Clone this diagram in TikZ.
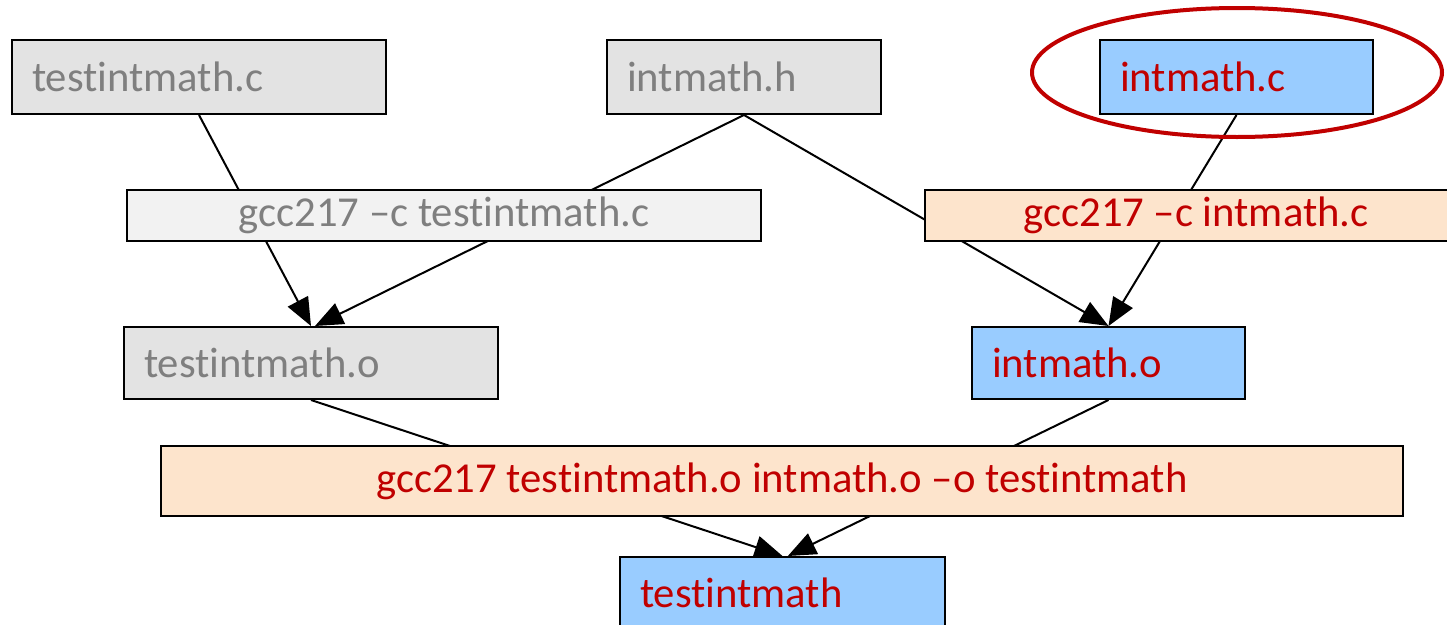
\documentclass[tikz,border=0pt]{standalone}
\usepackage{fontspec}
\setmainfont{Carlito}[Ligatures={NoCommon,NoRequired,NoContextual}, RawFeature={-liga;-dlig;-clig}]
\usetikzlibrary{arrows.meta}
\definecolor{txtgray}{HTML}{7F7F7F}
\definecolor{txtred}{HTML}{C00000}
\definecolor{fillgray}{HTML}{E3E3E3}
\definecolor{fillpale}{HTML}{F2F2F2}
\definecolor{fillpeach}{HTML}{FDE4CC}
\definecolor{fillblue}{HTML}{99CCFF}
\definecolor{ringred}{HTML}{C00000}
\pgfdeclarelayer{background}
\pgfsetlayers{background,main}
\tikzset{
  base/.style={draw=black, line width=1.5pt, font=\fontsize{32}{37}\selectfont, inner ysep=0pt, anchor=center},
  filebox/.style={base, inner xsep=15pt, align=left, minimum height=55pt},
  cmdbox/.style={base, align=center, inner xsep=0pt},
  grayfile/.style={filebox, fill=fillgray, text=txtgray},
  bluefile/.style={filebox, fill=fillblue, text=txtred},
  graycmd/.style={cmdbox, fill=fillpale, text=txtgray},
  peachcmd/.style={cmdbox, fill=fillpeach, text=txtred},
  conn/.style={draw=black, line width=1.5pt},
  arr/.style={conn, -{Triangle[length=21pt,width=17pt]}},
  ring/.style={draw=ringred, line width=3pt}
}
\begin{document}
\begin{tikzpicture}[x=0.75pt,y=-0.75pt]
\useasboundingbox (0,0) rectangle (1447,625);
\clip (0,0) rectangle (1447,625);
% file nodes
\node[grayfile, text width=250.5pt, minimum height=55.5pt] (tc) at (199,77) {testintmath.c};
\node[grayfile, text width=175.5pt, minimum height=55.5pt] (ih) at (744,77) {intmath.h};
\node[bluefile, text width=174.75pt, minimum height=55.5pt] (ic) at (1236.5,77) {intmath.c};
\node[graycmd, minimum width=475.5pt, minimum height=38.25pt] (gt) at (444,215.5) {gcc217 –c testintmath.c};
\node[peachcmd, minimum width=406.5pt, minimum height=38.25pt] (gi) at (1196,215.5) {gcc217 –c intmath.c};
\node[grayfile, text width=250.5pt, minimum height=54pt] (to) at (311,363) {testintmath.o};
\node[bluefile, text width=174.75pt, minimum height=54pt] (io) at (1108.5,363) {intmath.o};
\node[peachcmd, minimum width=931.5pt, minimum height=52.5pt] (gl) at (782,481) {gcc217 testintmath.o intmath.o –o testintmath};
\node[bluefile, text width=213.75pt, minimum height=54pt] (tm) at (782.5,593) {testintmath};
% highlight ring
\coordinate (ringc) at (1237,72.5);
\draw[ring] (ringc) ellipse [x radius=205, y radius=64.5];
% connectors behind boxes
\begin{pgfonlayer}{background}
\draw[arr] (tc.south) -- (to.north);
\draw[arr] (ih.south) -- ([xshift=3pt]to.north);
\draw[arr] (ih.south) -- (io.north);
\draw[arr] (ic.south) -- (io.north);
\draw[arr] (to.south) -- (tm.north);
\draw[arr] (io.south) -- ([xshift=4pt]tm.north);
\end{pgfonlayer}
\end{tikzpicture}
\end{document}
